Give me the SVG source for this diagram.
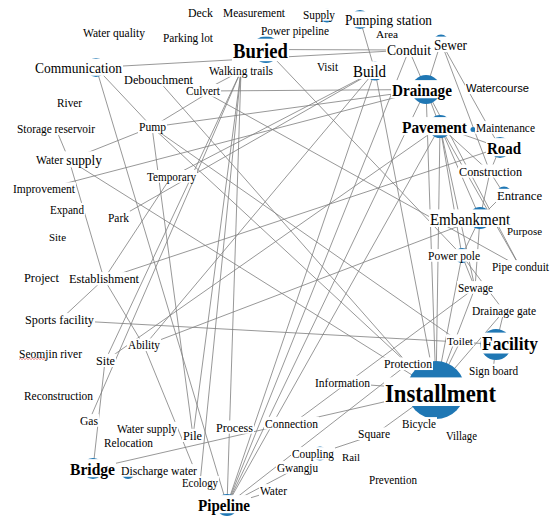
<svg xmlns="http://www.w3.org/2000/svg" width="554" height="517" viewBox="0 0 554 517" font-size="11.5">
<style>
.e line{stroke:#7d7d7d;stroke-width:0.8;fill:none}
circle{fill:#1f77b4}
rect{fill:#fff}
text{font-family:"Liberation Serif","Times New Roman",serif;fill:#000;text-anchor:middle;dominant-baseline:central}
.b{font-weight:bold}
.s{font-family:"Liberation Sans",Arial,sans-serif}
</style>
<rect x="0" y="0" width="554" height="517" fill="#fff"/>
<g id="edges" class="e">
<line x1="96" y1="67.5" x2="409" y2="50"/>
<line x1="266" y1="49.5" x2="409" y2="50"/>
<line x1="96" y1="67.5" x2="152" y2="127"/>
<line x1="96" y1="67.5" x2="227" y2="505"/>
<line x1="152" y1="127" x2="193" y2="436"/>
<line x1="360" y1="19.5" x2="375" y2="71"/>
<line x1="375" y1="71" x2="436" y2="390"/>
<line x1="266" y1="49.5" x2="462" y2="255.5"/>
<line x1="241" y1="71" x2="227" y2="505"/>
<line x1="241" y1="71" x2="193" y2="436"/>
<line x1="241" y1="71" x2="200" y2="483"/>
<line x1="241" y1="71" x2="105" y2="361"/>
<line x1="203" y1="91" x2="241" y2="71"/>
<line x1="203" y1="91" x2="426" y2="89.5"/>
<line x1="152" y1="127" x2="203" y2="96"/>
<line x1="152" y1="127" x2="426" y2="89.5"/>
<line x1="158" y1="80" x2="408" y2="364"/>
<line x1="152" y1="127" x2="408" y2="364"/>
<line x1="152" y1="127" x2="460" y2="342"/>
<line x1="56" y1="129" x2="69" y2="160"/>
<line x1="69" y1="160" x2="152" y2="127"/>
<line x1="69" y1="160" x2="436" y2="390"/>
<line x1="44" y1="189" x2="426" y2="89.5"/>
<line x1="118" y1="218" x2="375" y2="71"/>
<line x1="171" y1="177" x2="375" y2="71"/>
<line x1="171" y1="177" x2="104" y2="279"/>
<line x1="69" y1="160" x2="104" y2="279"/>
<line x1="104" y1="279" x2="60" y2="320"/>
<line x1="104" y1="279" x2="500" y2="147.5"/>
<line x1="60" y1="320" x2="460" y2="342"/>
<line x1="144" y1="346" x2="480" y2="218"/>
<line x1="105" y1="361" x2="440" y2="126.5"/>
<line x1="440" y1="126.5" x2="436" y2="390"/>
<line x1="426" y1="89.5" x2="440" y2="126.5"/>
<line x1="409" y1="50" x2="426" y2="89.5"/>
<line x1="441" y1="42" x2="426" y2="89.5"/>
<line x1="441" y1="42" x2="490" y2="172"/>
<line x1="440" y1="126.5" x2="500" y2="147.5"/>
<line x1="440" y1="126.5" x2="490" y2="172"/>
<line x1="500" y1="147.5" x2="490" y2="172"/>
<line x1="480" y1="218" x2="490" y2="172"/>
<line x1="480" y1="218" x2="504" y2="194"/>
<line x1="490" y1="172" x2="504" y2="194"/>
<line x1="426" y1="89.5" x2="520" y2="267"/>
<line x1="440" y1="126.5" x2="520" y2="267"/>
<line x1="203" y1="91" x2="520" y2="267"/>
<line x1="480" y1="218" x2="462" y2="255.5"/>
<line x1="462" y1="255.5" x2="436" y2="390"/>
<line x1="475" y1="288" x2="436" y2="390"/>
<line x1="462" y1="255.5" x2="475" y2="288"/>
<line x1="480" y1="218" x2="475" y2="288"/>
<line x1="504" y1="311" x2="496" y2="344.5"/>
<line x1="504" y1="311" x2="436" y2="390"/>
<line x1="496" y1="344.5" x2="493" y2="371"/>
<line x1="460" y1="342" x2="496" y2="344.5"/>
<line x1="460" y1="342" x2="436" y2="390"/>
<line x1="408" y1="364" x2="436" y2="390"/>
<line x1="343" y1="383" x2="436" y2="390"/>
<line x1="93" y1="468.5" x2="436" y2="390"/>
<line x1="227" y1="505" x2="408" y2="364"/>
<line x1="227" y1="505" x2="426" y2="89.5"/>
<line x1="227" y1="505" x2="440" y2="126.5"/>
<line x1="227" y1="505" x2="375" y2="71"/>
<line x1="227" y1="505" x2="409" y2="50"/>
<line x1="227" y1="505" x2="297" y2="468"/>
<line x1="227" y1="505" x2="273" y2="491"/>
<line x1="374" y1="435" x2="436" y2="390"/>
<line x1="320" y1="453" x2="374" y2="435"/>
<line x1="292" y1="424" x2="475" y2="288"/>
<line x1="144" y1="346" x2="200" y2="483"/>
<line x1="93" y1="468.5" x2="105" y2="361"/>
<line x1="89" y1="421" x2="241" y2="71"/>
<line x1="104" y1="279" x2="144" y2="346"/>
<line x1="375" y1="71" x2="144" y2="346"/>
<line x1="440" y1="126.5" x2="462" y2="255.5"/>
<line x1="440" y1="126.5" x2="475" y2="288"/>
<line x1="462" y1="255.5" x2="504" y2="311"/>
<line x1="441" y1="42" x2="500" y2="147.5"/>
<line x1="426" y1="89.5" x2="436" y2="390"/>
<line x1="440" y1="126.5" x2="480" y2="218"/>
</g>
<g id="n-installment"><circle cx="436" cy="390" r="29"/><rect x="384" y="377.4" width="113" height="28.6"/><text class="b" transform="translate(440.5,393) scale(0.873,1)" font-size="26">Installment</text></g>
<g id="n-facility"><circle cx="496" cy="344.5" r="15.5"/><rect x="481" y="332.6" width="58" height="20.9"/><text class="b" transform="translate(510,344) scale(0.915,1)" font-size="19">Facility</text></g>
<g id="n-drainage"><circle cx="426" cy="89.5" r="14.5"/><rect x="391" y="80.1" width="62" height="18.15"/><text class="b" transform="translate(422,90) scale(0.92,1)" font-size="16.5">Drainage</text></g>
<g id="n-pavement"><circle cx="440" cy="126.5" r="11.5"/><rect x="401" y="117.1" width="67" height="18.15"/><text class="b" transform="translate(434.5,127) scale(0.934,1)" font-size="16.5">Pavement</text></g>
<g id="n-road"><circle cx="500" cy="147.5" r="10.5"/><rect x="486" y="138.1" width="36" height="18.15"/><text class="b" transform="translate(504,148) scale(0.904,1)" font-size="16.5">Road</text></g>
<g id="n-embankment"><circle cx="480" cy="218" r="11"/><rect x="429" y="209.4" width="82" height="17.6"/><text transform="translate(470,219) scale(0.94,1)" font-size="16">Embankment</text></g>
<g id="n-buried"><circle cx="266" cy="49.5" r="13.5"/><rect x="232" y="38.7" width="57" height="22.5"/><text class="b" transform="translate(260.5,51) scale(0.91,1)" font-size="20.5">Buried</text></g>
<g id="n-bridge"><circle cx="93" cy="468.5" r="10.5"/><rect x="69" y="459.1" width="47" height="18.15"/><text class="b" transform="translate(92.5,469) scale(0.944,1)" font-size="16.5">Bridge</text></g>
<g id="n-pipeline"><circle cx="227" cy="505" r="11"/><rect x="197" y="495.1" width="54" height="18.15"/><text class="b" transform="translate(224,505) scale(0.915,1)" font-size="16.5">Pipeline</text></g>
<g id="n-build"><circle cx="375" cy="71" r="9.5"/><rect x="352" y="61.4" width="35" height="17.6"/><text transform="translate(369.5,71) scale(0.93,1)" font-size="16">Build</text></g>
<g id="n-pumping-station"><circle cx="360" cy="19.5" r="9.5"/><rect x="344" y="11.3" width="89" height="15.95"/><text transform="translate(388.5,20) scale(0.92,1)" font-size="14.5">Pumping station</text></g>
<g id="n-communication"><circle cx="96" cy="67.5" r="9.5"/><rect x="34" y="58.7" width="89" height="17.05"/><text transform="translate(78.5,68) scale(0.87,1)" font-size="15.5">Communication</text></g>
<g id="n-power-pole"><circle cx="462" cy="255.5" r="7.5"/><rect x="427" y="249.1" width="54" height="12.65"/><text x="454" y="256" textLength="52" lengthAdjust="spacingAndGlyphs">Power pole</text></g>
<g id="n-supply"><circle cx="327" cy="15.5" r="7"/><rect x="302" y="8.1" width="34" height="12.65"/><text x="319" y="15" textLength="32" lengthAdjust="spacingAndGlyphs">Supply</text></g>
<g id="n-sewer"><circle cx="441" cy="42" r="7.5"/><rect x="433" y="36.6" width="35" height="15.4"/><text x="450.5" y="45" font-size="14" textLength="33" lengthAdjust="spacingAndGlyphs">Sewer</text></g>
<g id="n-maintenance"><circle cx="473" cy="129.5" r="2.5"/><rect x="475" y="121.1" width="61" height="12.65"/><text x="505.5" y="128" textLength="59" lengthAdjust="spacingAndGlyphs">Maintenance</text></g>
<g id="n-entrance"><circle cx="504" cy="194" r="7.5"/><rect x="496" y="188.8" width="47" height="13.2"/><text x="519.5" y="196" font-size="12" textLength="45" lengthAdjust="spacingAndGlyphs">Entrance</text></g>
<g id="n-coupling"><circle cx="320" cy="453.5" r="7"/><rect x="291" y="447.1" width="44" height="12.65"/><text x="313" y="454" textLength="42" lengthAdjust="spacingAndGlyphs">Coupling</text></g>
<g id="n-discharge-water"><circle cx="128" cy="472" r="7"/><rect x="120" y="464.1" width="78" height="12.65"/><text x="159" y="471" textLength="76" lengthAdjust="spacingAndGlyphs">Discharge water</text></g>
<g id="n-water-quality"><rect x="82" y="26.4" width="64" height="12.65"/><text x="114" y="33" textLength="62" lengthAdjust="spacingAndGlyphs">Water quality</text></g>
<g id="n-parking-lot"><rect x="162" y="31" width="52" height="12.65"/><text x="188" y="38" textLength="50" lengthAdjust="spacingAndGlyphs">Parking lot</text></g>
<g id="n-deck"><rect x="187" y="6.4" width="27" height="12.65"/><text x="200.5" y="13" textLength="25" lengthAdjust="spacingAndGlyphs">Deck</text></g>
<g id="n-measurement"><rect x="222" y="6.4" width="64" height="12.65"/><text x="254" y="13" textLength="62" lengthAdjust="spacingAndGlyphs">Measurement</text></g>
<g id="n-power-pipeline"><rect x="260" y="24" width="70" height="12.65"/><text x="295" y="31" textLength="68" lengthAdjust="spacingAndGlyphs">Power pipeline</text></g>
<g id="n-area"><rect x="375" y="27.6" width="24" height="12.1"/><text x="387" y="34" font-size="11" textLength="22" lengthAdjust="spacingAndGlyphs">Area</text></g>
<g id="n-conduit"><rect x="386" y="41.6" width="46" height="15.4"/><text x="409" y="50" font-size="14" textLength="44" lengthAdjust="spacingAndGlyphs">Conduit</text></g>
<g id="n-walking-trails"><rect x="208" y="64.1" width="66" height="12.65"/><text x="241" y="71" textLength="64" lengthAdjust="spacingAndGlyphs">Walking trails</text></g>
<g id="n-visit"><rect x="316" y="60" width="23" height="12.65"/><text x="327.5" y="67" textLength="21" lengthAdjust="spacingAndGlyphs">Visit</text></g>
<g id="n-debouchment"><rect x="123" y="72.5" width="71" height="13.75"/><text x="158.5" y="80" font-size="12.5" textLength="69" lengthAdjust="spacingAndGlyphs">Debouchment</text></g>
<g id="n-culvert"><rect x="185" y="84" width="36" height="12.65"/><text x="203" y="91" textLength="34" lengthAdjust="spacingAndGlyphs">Culvert</text></g>
<g id="n-watercourse"><rect x="465" y="81.4" width="65" height="12.65"/><text class="s" x="497.5" y="88.3" font-size="11.5" textLength="63" lengthAdjust="spacingAndGlyphs">Watercourse</text></g>
<g id="n-river"><rect x="56" y="96.1" width="27" height="12.65"/><text x="69.5" y="103" textLength="25" lengthAdjust="spacingAndGlyphs">River</text></g>
<g id="n-pump"><rect x="138" y="120.4" width="29" height="12.65"/><text x="152.5" y="127.3" textLength="27" lengthAdjust="spacingAndGlyphs">Pump</text></g>
<g id="n-storage-reservoir"><rect x="16" y="122.4" width="80" height="12.65"/><text x="56" y="129.3" textLength="78" lengthAdjust="spacingAndGlyphs">Storage reservoir</text></g>
<g id="n-water-supply"><rect x="35" y="151.3" width="68" height="16"/><text x="69" y="160" textLength="66" lengthAdjust="spacingAndGlyphs"><tspan font-size="12.5">Water </tspan><tspan font-size="14.5">supply</tspan></text></g>
<g id="n-construction"><rect x="458" y="164.5" width="65" height="13.2"/><text x="490.5" y="171.7" font-size="12" textLength="63" lengthAdjust="spacingAndGlyphs">Construction</text></g>
<g id="n-temporary"><rect x="146" y="170" width="51" height="12.65"/><text x="171.5" y="177" textLength="49" lengthAdjust="spacingAndGlyphs">Temporary</text></g>
<g id="n-improvement"><rect x="12" y="182.4" width="64" height="12.65"/><text x="44" y="189.3" textLength="62" lengthAdjust="spacingAndGlyphs">Improvement</text></g>
<g id="n-expand"><rect x="49" y="202.8" width="36" height="12.65"/><text x="67" y="209.7" textLength="34" lengthAdjust="spacingAndGlyphs">Expand</text></g>
<g id="n-park"><rect x="107" y="211.1" width="23" height="12.65"/><text x="118.5" y="218" textLength="21" lengthAdjust="spacingAndGlyphs">Park</text></g>
<g id="n-purpose"><rect x="506" y="224.4" width="37" height="12.1"/><text x="524.5" y="231" font-size="11" textLength="35" lengthAdjust="spacingAndGlyphs">Purpose</text></g>
<g id="n-site-1"><rect x="48" y="230.4" width="19" height="12.1"/><text x="57.5" y="237" font-size="11" textLength="17" lengthAdjust="spacingAndGlyphs">Site</text></g>
<g id="n-pipe-conduit"><rect x="491" y="260.1" width="59" height="12.65"/><text x="520.5" y="267" textLength="57" lengthAdjust="spacingAndGlyphs">Pipe conduit</text></g>
<g id="n-project"><rect x="23" y="270.8" width="37" height="13.2"/><text x="41.5" y="278" font-size="12" textLength="35" lengthAdjust="spacingAndGlyphs">Project</text></g>
<g id="n-establishment"><rect x="68" y="272.1" width="72" height="13.2"/><text x="104" y="279.3" font-size="12" textLength="70" lengthAdjust="spacingAndGlyphs">Establishment</text></g>
<g id="n-sewage"><rect x="457" y="281.1" width="37" height="12.65"/><text x="475.5" y="288" textLength="35" lengthAdjust="spacingAndGlyphs">Sewage</text></g>
<g id="n-drainage-gate"><rect x="471" y="304.4" width="66" height="12.65"/><text x="504" y="311.3" textLength="64" lengthAdjust="spacingAndGlyphs">Drainage gate</text></g>
<g id="n-sports-facility"><rect x="24" y="313.1" width="71" height="13.2"/><text x="59.5" y="320.3" font-size="12" textLength="69" lengthAdjust="spacingAndGlyphs">Sports facility</text></g>
<g id="n-toilet"><rect x="446" y="334.4" width="28" height="12.1"/><text x="460" y="341" font-size="11" textLength="26" lengthAdjust="spacingAndGlyphs">Toilet</text></g>
<g id="n-ability"><rect x="127" y="338.4" width="34" height="12.65"/><text x="144" y="345.3" textLength="32" lengthAdjust="spacingAndGlyphs">Ability</text></g>
<g id="n-seomjin-river"><rect x="18" y="346.8" width="65" height="12.65"/><text x="50.5" y="353.7" textLength="63" lengthAdjust="spacingAndGlyphs">Seomjin river</text><polyline points="19,359.5 20.5,358.5 22,359.5 23.5,358.5 25,359.5 26.5,358.5 28,359.5 29.5,358.5 31,359.5 32.5,358.5 34,359.5 35.5,358.5 37,359.5 38.5,358.5 40,359.5 41.5,358.5 43,359.5 44.5,358.5 46,359.5" fill="none" stroke="#e03c3c" stroke-width="0.6"/></g>
<g id="n-site-2"><rect x="95" y="353.8" width="21" height="13.2"/><text x="105.5" y="361" font-size="12" textLength="19" lengthAdjust="spacingAndGlyphs">Site</text></g>
<g id="n-protection"><rect x="383" y="357.4" width="50" height="12.65"/><text x="408" y="364.3" textLength="48" lengthAdjust="spacingAndGlyphs">Protection</text></g>
<g id="n-sign-board"><rect x="468" y="363.8" width="51" height="12.65"/><text x="493.5" y="370.7" textLength="49" lengthAdjust="spacingAndGlyphs">Sign board</text></g>
<g id="n-information"><rect x="314" y="375.8" width="57" height="12.65"/><text x="342.5" y="382.7" textLength="55" lengthAdjust="spacingAndGlyphs">Information</text></g>
<g id="n-reconstruction"><rect x="23" y="389.1" width="71" height="12.65"/><text x="58.5" y="396" textLength="69" lengthAdjust="spacingAndGlyphs">Reconstruction</text></g>
<g id="n-gas"><rect x="79" y="414.1" width="20" height="12.65"/><text x="89" y="421" textLength="18" lengthAdjust="spacingAndGlyphs">Gas</text></g>
<g id="n-connection"><rect x="264" y="416.8" width="55" height="12.65"/><text x="291.5" y="423.7" textLength="53" lengthAdjust="spacingAndGlyphs">Connection</text></g>
<g id="n-bicycle"><rect x="401" y="417.1" width="36" height="12.65"/><text x="419" y="424" textLength="34" lengthAdjust="spacingAndGlyphs">Bicycle</text></g>
<g id="n-process"><rect x="215" y="420.5" width="39" height="13.2"/><text x="234.5" y="427.7" font-size="12" textLength="37" lengthAdjust="spacingAndGlyphs">Process</text></g>
<g id="n-water-supply-2"><rect x="116" y="421.8" width="62" height="12.65"/><text x="147" y="428.7" textLength="60" lengthAdjust="spacingAndGlyphs">Water supply</text></g>
<g id="n-square"><rect x="357" y="427.4" width="34" height="12.65"/><text x="374" y="434.3" textLength="32" lengthAdjust="spacingAndGlyphs">Square</text></g>
<g id="n-pile"><rect x="182" y="428.8" width="21" height="13.2"/><text x="192.5" y="436" font-size="12" textLength="19" lengthAdjust="spacingAndGlyphs">Pile</text></g>
<g id="n-village"><rect x="445" y="429.4" width="33" height="12.65"/><text x="461.5" y="436.3" textLength="31" lengthAdjust="spacingAndGlyphs">Village</text></g>
<g id="n-relocation"><rect x="103" y="435.8" width="51" height="12.65"/><text x="128.5" y="442.7" textLength="49" lengthAdjust="spacingAndGlyphs">Relocation</text></g>
<g id="n-rail"><rect x="341" y="450.4" width="20" height="12.1"/><text x="351" y="457" font-size="11" textLength="18" lengthAdjust="spacingAndGlyphs">Rail</text></g>
<g id="n-gwangju"><rect x="276" y="461.1" width="43" height="12.65"/><text x="297.5" y="468" textLength="41" lengthAdjust="spacingAndGlyphs">Gwangju</text></g>
<g id="n-prevention"><rect x="368" y="472.8" width="50" height="12.65"/><text x="393" y="479.7" textLength="48" lengthAdjust="spacingAndGlyphs">Prevention</text></g>
<g id="n-ecology"><rect x="181" y="476.1" width="38" height="12.65"/><text x="200" y="483" textLength="36" lengthAdjust="spacingAndGlyphs">Ecology</text></g>
<g id="n-water"><rect x="259" y="484.1" width="29" height="12.65"/><text x="273.5" y="491" textLength="27" lengthAdjust="spacingAndGlyphs">Water</text></g>
</svg>
